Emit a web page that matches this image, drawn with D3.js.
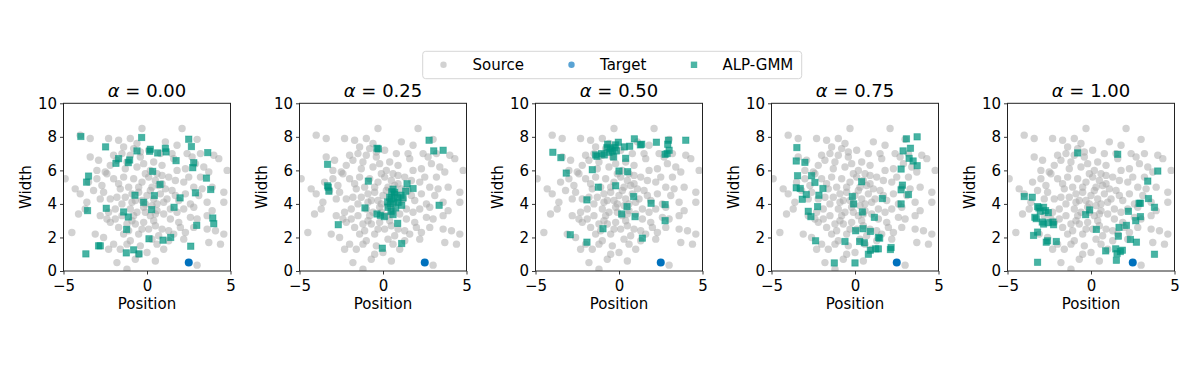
<!DOCTYPE html>
<html>
<head>
<meta charset="utf-8">
<script src="https://cdn.jsdelivr.net/npm/d3@7"></script>
<style>
  body { margin: 0; background: #fff; }
  svg text { font-family: "DejaVu Sans", sans-serif; fill: #000; }
</style>
</head>
<body>
<svg id="chart"></svg>
<script>
// source tasks (same in every panel)
const source = [
  [-4.0,8.1],[-3.4,7.9],[-2.3,7.9],[-1.7,7.8],[-1.0,7.9],[-0.3,8.5],[2.1,8.5],[3.0,7.85],[1.8,7.5],
  [-1.4,7.4],[-0.8,7.3],[-0.6,7.6],[0.8,7.0],[1.5,7.0],[2.4,7.0],[3.2,7.0],[4.0,6.9],[-2.0,6.9],[-0.4,7.1],
  [-1.2,6.5],[-2.2,6.3],[-3.0,6.0],[-2.5,5.9],[-1.3,6.1],[-0.6,6.2],[-0.2,6.4],[0.4,6.5],[0.9,6.3],[1.6,6.7],
  [2.3,6.1],[2.9,6.4],[3.4,6.2],[4.3,6.7],[4.8,6.0],[3.7,5.9],[0.2,6.0],[-1.8,6.6],
  [-4.9,5.5],[-3.5,5.3],[-3.0,5.5],[-2.4,5.8],[-2.0,5.5],[-1.4,5.6],[-0.8,5.5],[-0.3,5.3],[0.1,5.6],[0.5,5.4],
  [0.9,5.2],[1.3,5.6],[1.7,5.4],[2.2,5.3],[2.8,5.0],[3.2,5.6],[3.9,5.0],[-2.7,5.1],[-1.7,5.2],[-0.5,5.0],
  [0.3,5.0],[1.1,4.9],
  [-4.0,4.6],[-3.2,4.8],[-2.8,4.3],[-2.2,4.3],[-1.8,4.4],[-1.3,4.4],[-0.9,4.6],[-0.5,4.7],[0.0,4.5],[0.4,4.3],
  [0.8,4.6],[1.2,4.3],[1.5,4.8],[1.9,4.2],[2.3,4.6],[2.6,4.0],[3.1,4.5],[3.6,4.1],[4.6,4.7],[-3.6,4.1],
  [-1.5,4.0],[-0.3,4.2],[0.6,4.0],[1.0,4.1],
  [-4.1,3.4],[-2.8,3.3],[-2.3,3.5],[-1.9,3.1],[-1.5,3.3],[-1.0,3.7],[-0.6,3.5],[-0.2,3.8],[0.2,3.3],[0.6,3.6],
  [1.0,3.4],[1.4,3.1],[1.8,3.5],[2.2,3.7],[2.8,3.8],[3.0,3.1],[3.6,3.3],[-0.9,3.0],[0.4,3.0],[-2.4,3.1],
  [-2.2,2.9],[-1.7,2.6],[-1.2,2.8],[-0.7,2.8],[-0.2,2.9],[0.1,2.5],[0.5,2.7],[0.9,2.5],[1.3,2.4],[1.9,2.9],
  [2.3,2.3],[2.8,2.6],[3.6,2.5],[-0.5,2.2],[-1.4,2.2],[0.7,2.1],
  [-4.5,2.3],[-2.0,1.6],[-1.6,1.3],[-1.0,1.8],[-0.4,1.5],[0.0,1.1],[0.6,1.6],[1.3,1.8],[2.2,1.9],[3.7,1.7],
  [4.4,1.6],[4.6,2.2],[4.1,2.4],[-2.3,1.3],[-1.2,1.6],[1.0,1.3],
  [-1.8,0.5],[-1.2,0.1],[-0.7,0.7],[0.5,0.6],[3.0,0.35],[-0.5,1.0],[4.6,4.1],
  [-2.6,4.7],[-1.1,5.0],[-0.1,5.8],[0.6,5.8],[1.8,6.0],[-1.0,6.9],[0.1,7.2],[-2.9,6.6],[-3.7,3.7],[-3.1,2.2],
  [-2.6,2.0],[-0.1,3.5],[0.3,3.9],[-0.7,4.2],[1.4,3.7],[2.0,2.6],[2.6,3.2],[1.6,2.2],[-1.6,4.9],[-0.9,4.1],
  [0.2,4.8],[0.7,5.1],[-0.3,2.5],[-1.9,3.7],[2.5,5.6],[3.3,4.9],[-4.3,4.9],[-3.4,6.8],[1.1,7.7],[-1.1,2.4],
  [0.3,1.9],[1.7,4.5],[-0.4,6.8],[2.7,6.8],[3.9,3.6],[-1.5,7.0],[0.9,5.7],[-0.1,4.0],[0.5,3.4],[-0.8,3.3]
];

const target = [[2.5, 0.5]];

// ALP-GMM sampled tasks for each alpha
const alp000 = [
  [-3.96,8.02],[-2.48,7.4],[-0.32,7.96],[-0.6,7.16],[0.2,7.26],[0.16,7.14],[1.1,7.32],[1.14,7.1],[0.64,7.04],
  [2.5,7.86],[2.66,7.42],[3.64,7.06],[-1.7,6.7],[-1.86,6.42],[-1.04,6.62],[-1.12,6.46],[1.74,6.58],[2.8,6.46],
  [2.74,6.16],[0.34,5.94],[-3.5,5.66],[-3.62,5.3],[3.56,5.54],[3.82,4.86],[0.78,5.16],[-0.72,4.52],[0.44,4.5],
  [1.98,4.36],[2.9,4.66],[-0.2,4.1],[0.28,3.66],[1.62,3.8],[-3.56,3.6],[-2.44,3.74],[-1.4,3.52],[-1.12,3.22],
  [2.98,2.72],[3.94,3.16],[4.0,2.82],[-1.22,2.48],[0.12,1.92],[0.96,1.84],[1.42,2.0],[2.62,1.48],[-2.9,1.5],
  [-2.8,1.5],[-3.66,1.02],[-1.24,1.08],[-0.8,1.26],[-0.48,1.02]
];
const alp025 = [
  [2.76,7.8],[3.04,7.16],[3.6,7.2],[-0.36,7.32],[-0.28,7.28],[-3.32,6.36],[-0.88,5.36],[-3.32,5.08],[-3.28,5.0],
  [-3.24,4.76],[1.44,5.2],[1.8,4.92],[0.6,4.88],[0.52,4.72],[0.68,4.56],[0.4,4.4],[0.88,4.36],[1.08,4.52],
  [0.64,4.16],[0.28,4.12],[1.12,3.92],[0.76,3.76],[0.48,3.56],[0.6,3.36],[0.08,3.24],[-0.16,3.32],[-0.36,3.4],
  [1.36,4.76],[1.2,4.36],[0.44,4.0],[-1.08,3.76],[3.36,3.92],[-2.68,2.76],[0.88,2.84],[1.12,1.64],[-0.04,1.36],
  [0.7,4.7],[0.5,4.3],[0.9,4.1],[0.3,3.8]
];
const alp050 = [
  [-3.96,7.08],[-3.48,6.76],[-3.16,5.84],[-0.68,7.56],[-0.72,7.36],[-0.52,7.28],[-0.28,7.36],[-0.4,7.16],
  [-0.6,7.08],[-0.2,7.52],[-0.04,7.68],[-0.16,7.16],[-0.88,6.92],[-1.04,7.0],[-1.32,6.84],[-1.4,6.92],
  [-0.32,6.8],[0.4,6.72],[0.32,7.4],[0.64,7.44],[0.92,7.88],[1.28,7.52],[1.36,7.56],[2.24,7.68],[2.96,7.8],
  [2.92,7.56],[3.0,7.2],[2.88,7.0],[2.76,6.96],[4.0,7.8],[-1.6,6.04],[0.0,5.96],[0.52,5.92],[-1.24,5.0],
  [-0.2,5.08],[-1.92,4.24],[0.88,4.44],[1.92,4.04],[0.48,3.84],[2.76,3.96],[0.16,3.4],[0.96,3.24],[2.76,3.0],
  [-0.96,2.52],[-2.92,2.16],[-1.92,1.72],[1.4,1.96]
];
const alp075 = [
  [-3.48,7.36],[-3.52,6.56],[-3.0,6.48],[-3.44,5.68],[-2.6,5.68],[-2.4,5.28],[-3.52,4.96],[-3.28,4.92],
  [-1.92,4.92],[-2.92,4.56],[-2.16,4.52],[-3.16,4.28],[-2.24,3.84],[-2.8,3.56],[-2.64,3.24],[-2.36,1.8],
  [-1.24,0.48],[-0.6,1.76],[0.0,0.48],[0.4,5.32],[-0.16,4.44],[-0.08,4.0],[0.44,3.52],[1.16,3.2],[1.64,4.32],
  [0.04,2.4],[0.48,2.52],[0.92,2.36],[1.4,2.0],[1.48,1.96],[0.28,1.76],[0.56,1.68],[0.92,1.24],[1.24,1.32],
  [1.4,1.32],[0.8,1.0],[2.16,1.4],[2.12,1.28],[2.76,6.08],[2.84,5.12],[2.76,4.84],[3.2,4.56],[2.76,4.0],
  [3.08,7.88],[3.72,8.0],[2.88,7.16],[3.32,7.32],[3.24,6.72],[3.48,6.56],[3.72,6.28]
];
const alp100 = [
  [-0.8,7.04],[1.6,6.96],[4.0,5.96],[3.4,5.36],[3.44,4.32],[2.96,4.04],[2.88,4.04],[3.8,3.8],[2.24,3.56],
  [2.96,3.24],[2.68,3.0],[2.12,2.72],[1.68,2.6],[1.64,2.08],[2.36,1.88],[2.72,1.72],[1.48,1.32],[1.56,1.04],
  [1.88,1.24],[1.76,1.16],[1.52,0.64],[0.88,1.2],[3.8,1.0],[-0.08,3.64],[-0.32,3.36],[0.32,2.48],[-4.0,4.44],
  [-3.52,4.4],[-3.2,3.84],[-3.12,3.76],[-2.84,3.8],[-3.04,3.56],[-2.72,3.6],[-2.56,3.48],[-3.36,3.2],
  [-3.28,3.12],[-2.92,2.92],[-2.84,2.8],[-2.56,2.88],[-2.28,2.92],[-2.24,2.76],[-3.44,2.12],[-3.2,2.32],
  [-2.68,1.72],[-2.6,1.8],[-2.08,1.76],[-3.2,0.52]
];

const alphas = ["0.00", "0.25", "0.50", "0.75", "1.00"];
const alpSets = [alp000, alp025, alp050, alp075, alp100];
const xTicks = [-5, 0, 5];
const yTicks = [0, 2, 4, 6, 8, 10];

const width = 1196, height = 387;
const grayCol = "#a6a6a6", blueCol = "#0071bd", tealCol = "#00957f";

const svg = d3.select("#chart").attr("width", width).attr("height", height);

const panelW = 167, panelTop = 103.3, panelBottom = 271, firstLeft = 63.5, step = 236;

alphas.forEach((a, i) => {
  const left = firstLeft + i * step;
  const x = d3.scaleLinear().domain([-5, 5]).range([left, left + panelW]);
  const y = d3.scaleLinear().domain([0, 10]).range([panelBottom, panelTop]);

  const g = svg.append("g");
  const clipId = "clip" + i;
  g.append("clipPath").attr("id", clipId).append("rect")
    .attr("x", left).attr("y", panelTop).attr("width", panelW).attr("height", panelBottom - panelTop);

  const plot = g.append("g").attr("clip-path", `url(#${clipId})`);

  plot.selectAll("circle.src").data(source).join("circle")
    .attr("class", "src")
    .attr("cx", d => x(d[0])).attr("cy", d => y(d[1])).attr("r", 3.7)
    .attr("fill", grayCol).attr("fill-opacity", 0.5);

  plot.selectAll("circle.tgt").data(target).join("circle")
    .attr("class", "tgt")
    .attr("cx", d => x(d[0])).attr("cy", d => y(d[1])).attr("r", 4)
    .attr("fill", blueCol);

  const s = 6.4;
  plot.selectAll("rect.alp").data(alpSets[i]).join("rect")
    .attr("class", "alp")
    .attr("x", d => x(d[0]) - s / 2).attr("y", d => y(d[1]) - s / 2)
    .attr("width", s).attr("height", s)
    .attr("fill", tealCol).attr("fill-opacity", 0.72)
    .attr("stroke", tealCol).attr("stroke-opacity", 0.5).attr("stroke-width", 0.8);

  const xAxis = g.append("g")
    .attr("transform", `translate(0,${panelBottom})`)
    .call(d3.axisBottom(x).tickValues(xTicks).tickSize(3.5).tickPadding(5.5)
      .tickFormat(d => d < 0 ? "\u2212" + Math.abs(d) : d));
  const yAxis = g.append("g")
    .attr("transform", `translate(${left},0)`)
    .call(d3.axisLeft(y).tickValues(yTicks).tickSize(3.5).tickPadding(3));
  [xAxis, yAxis].forEach(ax => {
    ax.select(".domain").remove();
    ax.selectAll("line").attr("stroke", "#222").attr("stroke-width", 0.9);
    ax.selectAll("text").attr("font-size", "15px").attr("fill", "#000")
      .style("font-family", "DejaVu Sans");
  });

  g.append("rect")
    .attr("x", left).attr("y", panelTop).attr("width", panelW).attr("height", panelBottom - panelTop)
    .attr("fill", "none").attr("stroke", "#222").attr("stroke-width", 1);

  const title = g.append("text")
    .attr("x", left + panelW / 2).attr("y", 97)
    .attr("text-anchor", "middle").attr("font-size", "18px");
  title.append("tspan").attr("font-style", "italic").text("\u03b1");
  title.append("tspan").text(" = " + a);

  g.append("text")
    .attr("x", left + panelW / 2).attr("y", 309)
    .attr("text-anchor", "middle").attr("font-size", "15px").text("Position");

  g.append("text")
    .attr("transform", `translate(${left - 38},${(panelTop + panelBottom) / 2}) rotate(-90)`)
    .attr("text-anchor", "middle").attr("dy", "0.35em").attr("font-size", "15px").text("Width");
});

// legend
const legendItems = [
  { label: "Source", shape: "circle", color: grayCol, op: 0.5, mx: 443.5, tx: 472.5 },
  { label: "Target", shape: "circle", color: blueCol, op: 0.65, mx: 571.5, tx: 600 },
  { label: "ALP-GMM", shape: "square", color: tealCol, op: 0.7, mx: 694, tx: 722.5 }
];
const legend = svg.append("g");
legend.append("rect")
  .attr("x", 422.7).attr("y", 51.3).attr("width", 379).attr("height", 27.4)
  .attr("rx", 3).attr("fill", "#fff").attr("stroke", "#d6d6d6").attr("stroke-width", 1);
legendItems.forEach(it => {
  if (it.shape === "circle") {
    legend.append("circle").attr("cx", it.mx).attr("cy", 64.8).attr("r", 3.2)
      .attr("fill", it.color).attr("fill-opacity", it.op);
  } else {
    legend.append("rect").attr("x", it.mx - 3.2).attr("y", 64.8 - 3.2).attr("width", 6.4).attr("height", 6.4)
      .attr("fill", it.color).attr("fill-opacity", it.op);
  }
  legend.append("text").attr("x", it.tx).attr("y", 64.8).attr("dy", "0.36em")
    .attr("font-size", "15px").text(it.label);
});
</script>
</body>
</html>
